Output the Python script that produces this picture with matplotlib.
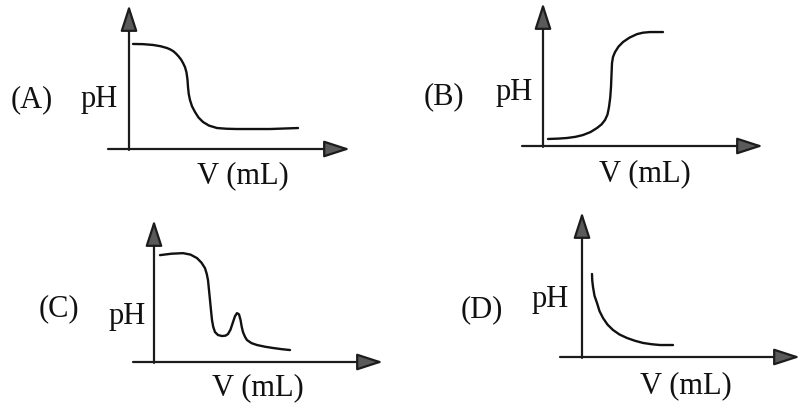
import matplotlib
matplotlib.use("Agg")
import matplotlib.pyplot as plt
from matplotlib.patches import ArrowStyle

# ---- data (V in mL, pH) ----
vol_a = [0.8, 2.8, 4.8, 6.3, 7.6, 8.3, 8.9, 9.4, 9.9, 10.4, 10.8, 11.2, 11.5, 11.7, 11.8,
         11.95, 12.2, 12.6, 13.2, 13.9, 14.8, 16.0, 17.6, 19.5, 21.6, 28.2, 33.8]
ph_a = [11.67, 11.65, 11.56, 11.42, 11.22, 11.05, 10.85, 10.6, 10.3, 9.95, 9.56, 9.1, 8.5,
        7.7, 6.89, 6.1, 5.44, 4.75, 4.11, 3.5, 3.0, 2.6, 2.33, 2.25, 2.22, 2.22, 2.33]

vol_b = [1.0, 3.0, 4.8, 6.5, 8.0, 9.5, 10.8, 11.7, 12.4, 12.9, 13.2, 13.45, 13.6, 13.7, 13.8,
         14.0, 14.4, 15.1, 16.0, 17.3, 18.8, 20.0, 21.4, 24.0]
ph_b = [0.78, 0.82, 0.89, 1.02, 1.22, 1.55, 2.0, 2.4, 2.89, 3.5, 4.33, 5.4, 6.56, 7.9, 9.22,
        9.9, 10.44, 11.05, 11.56, 12.05, 12.44, 12.6, 12.67, 12.67]

vol_c = [1.2, 3.5, 5.8, 7.3, 8.6, 9.5, 10.2, 10.55, 10.8, 11.0, 11.2, 11.4, 11.6, 11.85, 12.2,
         12.8, 13.6, 14.3, 14.8, 15.3, 15.8, 16.2, 16.6, 17.0, 17.3, 17.55, 17.8, 18.2, 18.6,
         19.5, 20.6, 22.2, 23.8, 25.5, 27.2]
ph_c = [11.89, 12.05, 12.11, 11.95, 11.56, 11.05, 10.44, 9.8, 9.11, 8.0, 6.89, 5.75, 4.67,
        3.9, 3.33, 3.0, 2.89, 2.93, 3.11, 3.6, 4.44, 5.1, 5.44, 5.3, 4.7, 3.9, 3.33, 2.8, 2.44,
        2.1, 1.89, 1.7, 1.56, 1.43, 1.33]

vol_d = [2.0, 2.05, 2.2, 2.5, 3.0, 3.5, 4.2, 5.1, 6.2, 7.5, 9.0, 10.6, 12.2, 13.9, 15.6, 18.2]
ph_d = [9.22, 8.5, 7.78, 6.8, 6.0, 5.1, 4.33, 3.6, 3.0, 2.5, 2.11, 1.8, 1.56, 1.42, 1.33, 1.33]

panel_labels = ["(A)", "(B)", "(C)", "(D)"]
y_label = "pH"
x_label = "V (mL)"

W, H = 803, 404
fig = plt.figure(figsize=(W / 100, H / 100), dpi=100)
fig.patch.set_facecolor("white")

# layout boxes in pixels: (left, top, right, bottom) = x-axis extent / y-axis extent
boxes = [(108, 5, 350, 149), (522, 3, 763, 146), (133, 220, 383, 362), (560, 212, 800, 357)]
xlims = [(-4.2, 44.2), (-4.2, 44.0), (-4.2, 45.8), (-4.4, 43.6)]
ylims = [(0, 16.0), (0, 15.9), (0, 15.8), (0, 16.1)]
series = [(vol_a, ph_a), (vol_b, ph_b), (vol_c, ph_c), (vol_d, ph_d)]

# text positions in pixels (center x, baseline y)
lab_pos = [(32, 107), (444, 104), (59, 316), (482, 317)]
ph_pos = [(99, 107), (514, 100), (127, 324), (550, 307)]
v_pos = [(243, 183), (645, 181), (258, 395), (686, 393)]

font = "Liberation Serif"
fs = 22
axis_col = "#1c1c1c"
head_col = "#5a5a5a"
style = ArrowStyle("-|>", head_length=1.6, head_width=0.52)

for i in range(4):
    l, t, r, b = boxes[i]
    ax = fig.add_axes([l / W, 1 - b / H, (r - l) / W, (b - t) / H])
    ax.set_xlim(*xlims[i])
    ax.set_ylim(*ylims[i])
    ax.axis("off")
    x0, x1 = xlims[i]
    y0, y1 = ylims[i]
    ap = dict(arrowstyle=style, mutation_scale=10, lw=1.6, edgecolor=axis_col,
              facecolor=head_col, shrinkA=0, shrinkB=0)
    ax.annotate("", xy=(x1, 0), xytext=(x0, 0), arrowprops=ap, annotation_clip=False)
    ax.annotate("", xy=(0, y1), xytext=(0, -0.1), arrowprops=ap, annotation_clip=False)
    vx, py = series[i]
    ax.plot(vx, py, color="#111111", lw=1.7, solid_joinstyle="round",
            solid_capstyle="round", clip_on=False)

    for (px, pyy), s in ((lab_pos[i], panel_labels[i]), (ph_pos[i], y_label), (v_pos[i], x_label)):
        fig.text(px / W, 1 - pyy / H, s, ha="center", va="baseline",
                 family=font, fontsize=fs, color="#111111")

fig.savefig("out.png", dpi=100, facecolor="white")
